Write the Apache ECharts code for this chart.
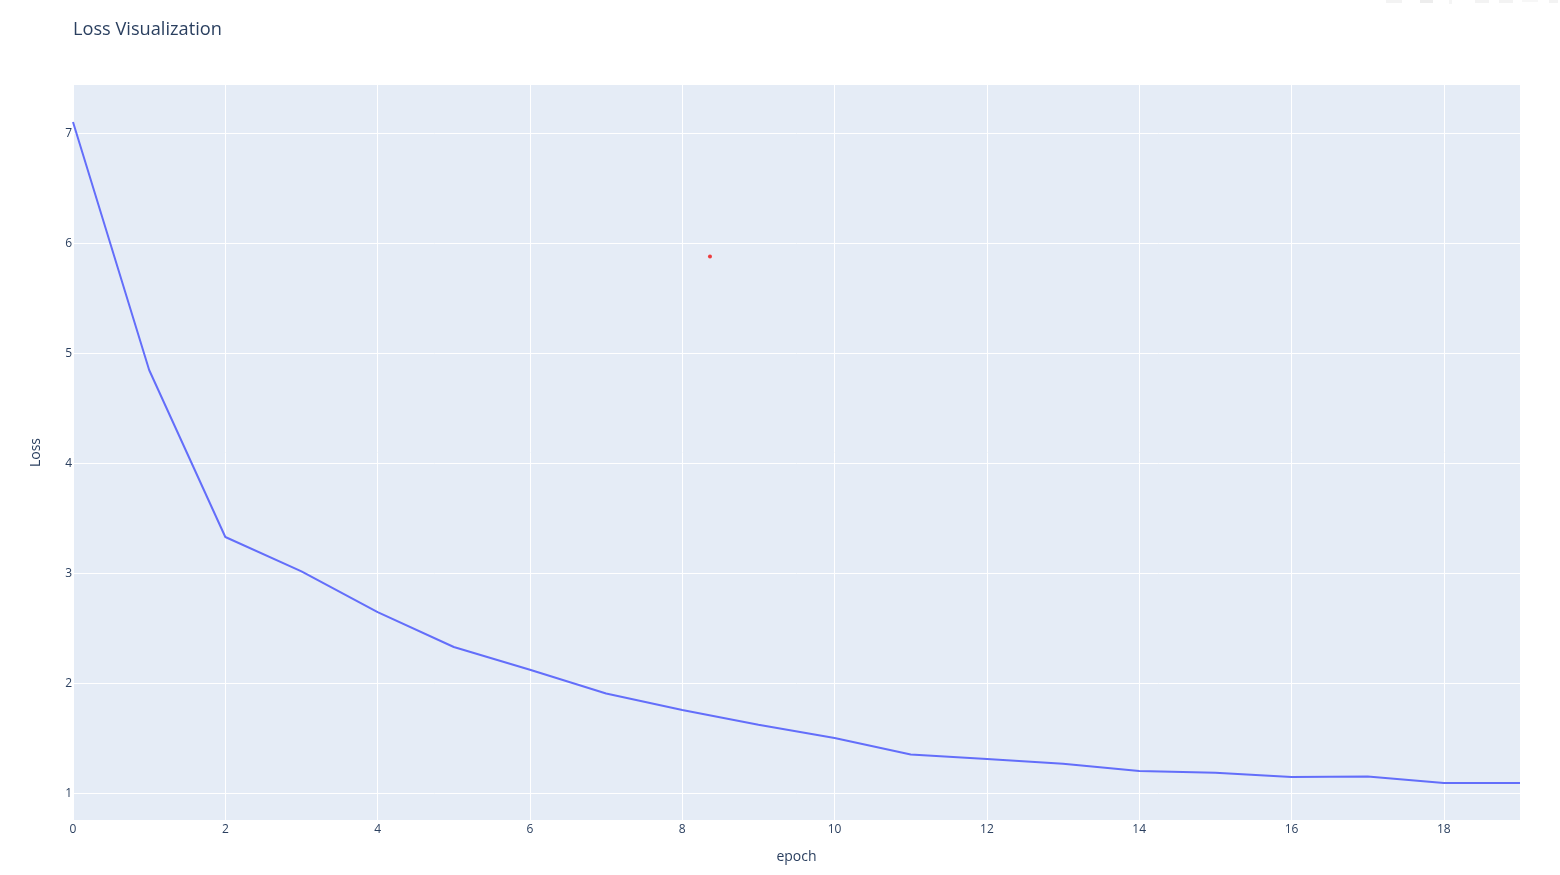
<!DOCTYPE html>
<html><head><meta charset="utf-8">
<style>html,body{margin:0;padding:0;background:#fff}#c{width:1560px;height:875px}</style>
<script src="https://cdn.jsdelivr.net/npm/echarts@6/dist/echarts.min.js"></script>
</head><body><div id="c"></div>
<script>
const epochs=[0,1,2,3,4,5,6,7,8,9,10,11,12,13,14,15,16,17,18,19];
const loss=[7.1,4.845,3.327,3.015,2.645,2.327,2.12,1.905,1.755,1.62,1.5,1.35,1.31,1.265,1.2,1.185,1.145,1.15,1.09,1.09];
const strayX=[8.364];
const strayY=[5.877];
const xTicks=[0,2,4,6,8,10,12,14,16,18];
const yTicks=[1,2,3,4,5,6,7];
const txt='#2a3f5f', font='"Open Sans",sans-serif';
const chart=echarts.init(document.getElementById('c'),null,{renderer:'canvas'});
const icon=(x,w,h,fill)=>({type:'rect',shape:{x:x,y:0,width:w,height:h},style:{fill:fill},silent:true});
chart.setOption({
  animation:false,
  backgroundColor:'#fff',
  title:{text:'Loss Visualization',left:68,top:16,textStyle:{color:txt,fontFamily:font,fontSize:18.2,fontWeight:'normal'}},
  grid:{left:73,right:40,top:85,bottom:55,backgroundColor:'#e5ecf6',show:true,borderWidth:0,containLabel:false},
  xAxis:{type:'value',min:0,max:19,
    name:'epoch',nameLocation:'middle',nameGap:30,nameTextStyle:{color:txt,fontFamily:font,fontSize:14},
    axisLine:{show:false},
    axisTick:{show:false,customValues:xTicks},
    axisLabel:{customValues:xTicks,color:txt,fontFamily:font,fontSize:12,margin:4,showMinLabel:true,showMaxLabel:true},
    splitLine:{show:true,lineStyle:{color:'#fff',width:1}}},
  yAxis:{type:'value',min:0.7545,max:7.436,
    name:'Loss',nameLocation:'middle',nameGap:30,nameTextStyle:{color:txt,fontFamily:font,fontSize:14},
    axisLine:{show:false},
    axisTick:{show:false,customValues:yTicks},
    axisLabel:{customValues:yTicks,margin:1,formatter:'{a|{value}}',
      rich:{a:{color:txt,fontFamily:font,fontSize:12,padding:[2,0,0,0]}}},
    splitLine:{show:true,lineStyle:{color:'#fff',width:1}}},
  series:[
    {type:'line',data:epochs.map((e,i)=>[e,loss[i]]),showSymbol:false,symbol:'none',smooth:false,
     lineStyle:{color:'#636efa',width:2},clip:true,silent:true},
    {type:'scatter',data:strayX.map((x,i)=>[x,strayY[i]]),symbolSize:4,itemStyle:{color:'#ee1111'},silent:true}
  ],
  graphic:[
    icon(1386,16,3,'#f3f3f3'),icon(1420,13,3,'#ededed'),icon(1449,3,4,'#f5f5f5'),
    icon(1475,14,3,'#f3f3f3'),icon(1499,14,3,'#f3f3f3'),icon(1522,16,2,'#f7f7f7'),icon(1549,9,3,'#f3f3f3')
  ]
});
</script></body></html>
